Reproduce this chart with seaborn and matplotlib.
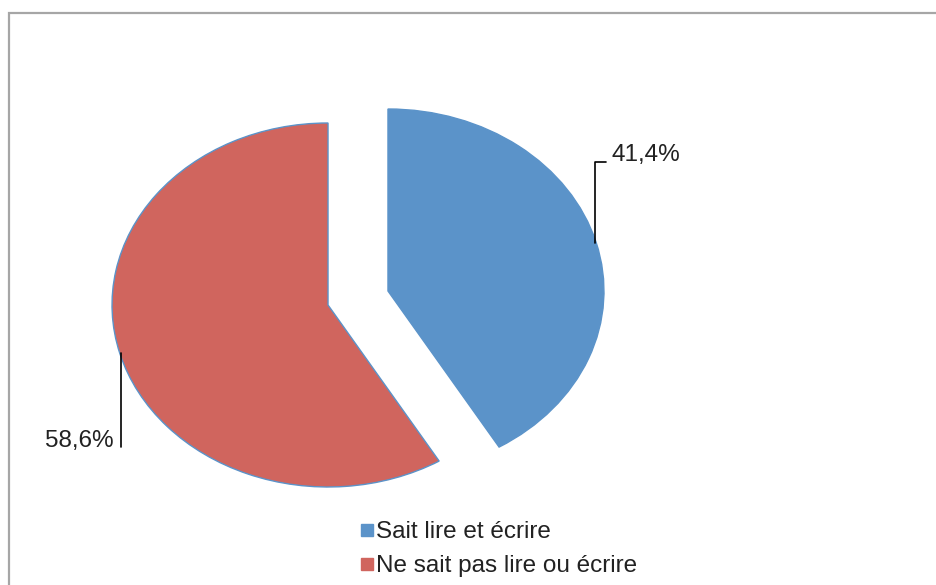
import numpy as np
import matplotlib
matplotlib.use("Agg")
import matplotlib.pyplot as plt
from matplotlib.patches import Rectangle
from matplotlib.lines import Line2D
import seaborn as sns

# data
categories = ["Sait lire et écrire", "Ne sait pas lire ou écrire"]
shares = [41.4, 58.6]
value_labels = ["41,4%", "58,6%"]
colors = ["#5B93C9", "#D0655E"]

sns.set_theme(style="white")
plt.rcParams['font.family'] = ['Liberation Sans', 'DejaVu Sans']

W, H = 936, 585
fig = plt.figure(figsize=(W / 100, H / 100), dpi=100)
fig.patch.set_facecolor("white")

# outer chart frame (runs off the right and bottom edge)
fig.add_artist(Rectangle((9 / W, -0.1), 1.2, 1 - 13 / H + 0.1, transform=fig.transFigure,
                         fill=False, edgecolor="#A6A6A6", lw=1.6))

# axes stretched so the pie becomes an ellipse
ax = fig.add_axes([88 / W, 59.5 / H, 540 / W, 455 / H])
explode = 0.144
wedges, _ = ax.pie(shares, colors=colors, startangle=90, counterclock=False,
                   explode=[explode] * len(shares),
                   wedgeprops={'edgecolor': colors[0], 'linewidth': 1.0})
ax.set_aspect('auto')
ax.set_xlim(-1.25, 1.25)
ax.set_ylim(-1.25, 1.25)

# leader lines: start on the arc at mid angle, go vertical, label sits on the end
elbow_y = [0.75, -0.82]
for w, lab, ey in zip(wedges, value_labels, elbow_y):
    mid = np.deg2rad((w.theta1 + w.theta2) / 2)
    cx, cy = w.center
    sx, sy = cx + 0.995 * np.cos(mid), cy + 0.995 * np.sin(mid)
    if np.cos(mid) > 0:
        ax.plot([sx, sx, sx + 0.05], [sy, ey, ey], color="black", lw=1.2, clip_on=False)
        ax.text(sx + 0.075, ey, lab, ha="left", va="baseline", fontsize=17.5, color="#222222")
    else:
        ax.plot([sx, sx], [sy, ey], color="black", lw=1.2, clip_on=False)
        ax.text(sx - 0.035, ey, lab, ha="right", va="baseline", fontsize=17.5, color="#222222")

handles = [Line2D([0], [0], marker="s", linestyle="none", markersize=9,
                  markerfacecolor=c, markeredgecolor=c) for c in colors]
fig.legend(handles, categories, loc="upper left", bbox_to_anchor=(348 / W, 1 - 509 / H),
           frameon=False, fontsize=17.5, handlelength=0.6, handletextpad=0.05,
           labelspacing=0.5, borderpad=0, labelcolor="#222222")

fig.savefig("out.png", dpi=100)
